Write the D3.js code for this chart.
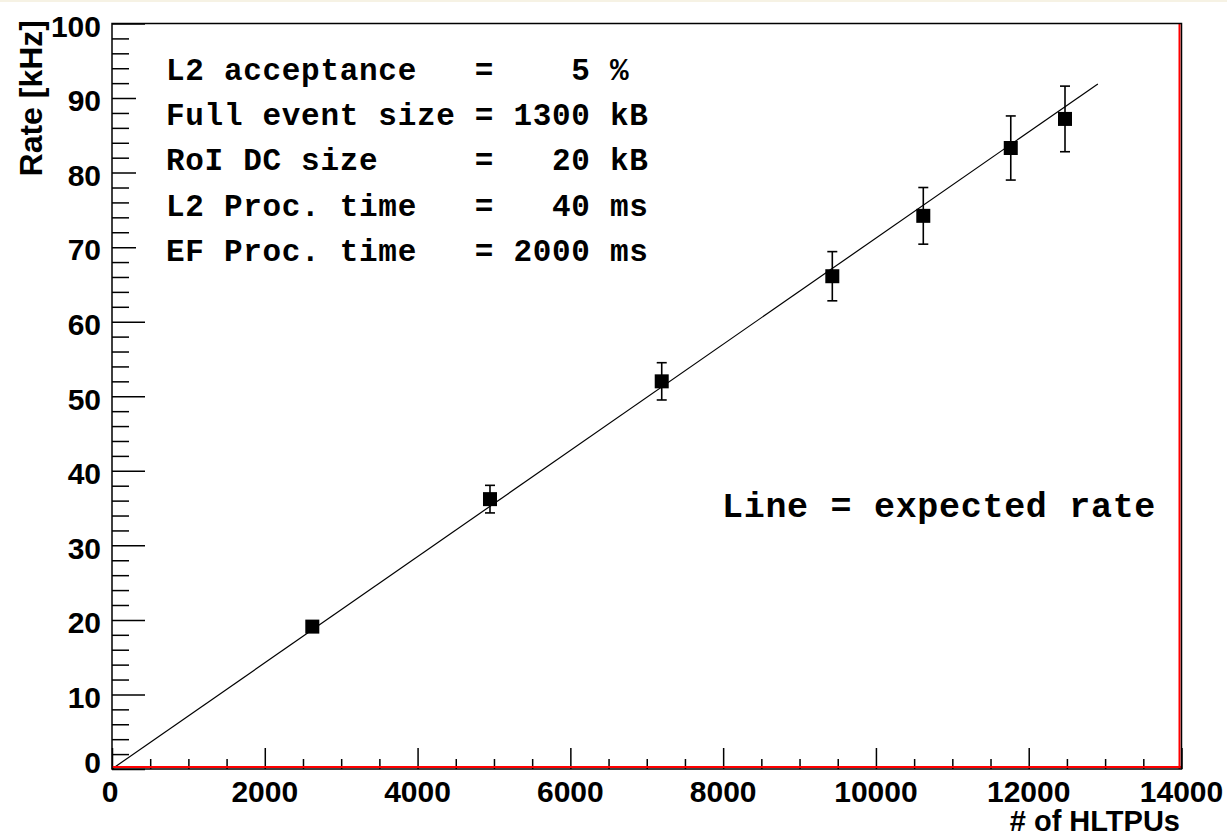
<!DOCTYPE html>
<html>
<head>
<meta charset="utf-8">
<script src="https://cdn.jsdelivr.net/npm/d3@7"></script>
<style>
  html, body { margin: 0; padding: 0; background: #ffffff; }
  svg { display: block; }
</style>
</head>
<body>
<svg id="chart" width="1227" height="838"></svg>
<script>
// ---- data ----
const hltpus     = [2622, 4948, 7196, 9429, 10620, 11765, 12475];
const rates      = [19.1, 36.2, 52.0, 66.1, 74.2, 83.3, 87.2];
const rateErrors = [0.7, 1.85, 2.5, 3.3, 3.8, 4.3, 4.4];
const expectedX  = [0, 12905];
const expectedY  = [0, 91.9];
const xMajorTicks = [0, 2000, 4000, 6000, 8000, 10000, 12000, 14000];
const yMajorTicks = [0, 10, 20, 30, 40, 50, 60, 70, 80, 90, 100];
const infoLines = [
  "L2 acceptance   =    5 %",
  "Full event size = 1300 kB",
  "RoI DC size     =   20 kB",
  "L2 Proc. time   =   40 ms",
  "EF Proc. time   = 2000 ms"
];
const noteText = "Line = expected rate";
const xTitle = "# of HLTPUs";
const yTitle = "Rate [kHz]";

(function () {
// ---- layout ----
const svg = d3.select("#chart");
const W = 1227, H = 838;
const pLeft = 112, pRight = 1181.5, pTop = 23.5, pBottom = 769;

svg.append("rect").attr("x", 0).attr("y", 0).attr("width", W).attr("height", H).attr("fill", "#ffffff");
svg.append("rect").attr("x", 0).attr("y", 0).attr("width", W).attr("height", 2).attr("fill", "#f6f2e4");

const x = d3.scaleLinear().domain([0, 14000]).range([pLeft, pRight]);
const y = d3.scaleLinear().domain([0, 100]).range([pBottom, pTop]);

const sans = "'Liberation Sans', Arial, Helvetica, sans-serif";
const mono = "'Liberation Mono', 'Courier New', monospace";

// ---- axes ----
const gx = svg.append("g").attr("transform", `translate(0,${pBottom})`);
gx.call(d3.axisBottom(x).tickValues(d3.range(0, 14001, 500)).tickSize(0).tickFormat(""));
gx.select(".domain").remove();
gx.selectAll(".tick line").remove();
gx.selectAll(".tick").append("line")
  .attr("y1", 0)
  .attr("y2", d => (d % 2000 === 0 ? -21 : -10))
  .attr("stroke", "#000").attr("stroke-width", 1.5);

const gy = svg.append("g").attr("transform", `translate(${pLeft},0)`);
gy.call(d3.axisLeft(y).tickValues(d3.range(0, 101, 2)).tickSize(0).tickFormat(""));
gy.select(".domain").remove();
gy.selectAll(".tick line").remove();
gy.selectAll(".tick").append("line")
  .attr("x1", 0)
  .attr("x2", d => (d % 10 === 0 ? 33 : 17))
  .attr("stroke", "#000").attr("stroke-width", 1.5);

// tick labels
svg.append("g").selectAll("text").data(xMajorTicks).join("text")
  .attr("x", d => x(d) - (d === 0 ? 2 : 0))
  .attr("y", 802)
  .attr("text-anchor", "middle")
  .attr("font-family", sans).attr("font-weight", "bold").attr("font-size", 30)
  .attr("fill", "#000")
  .text(d => d);

svg.append("g").selectAll("text").data(yMajorTicks).join("text")
  .attr("x", 101)
  .attr("y", d => y(d) + (d === 0 ? -7 : 2.5))
  .attr("dy", "0.36em")
  .attr("text-anchor", "end")
  .attr("font-family", sans).attr("font-weight", "bold").attr("font-size", 30)
  .attr("fill", "#000")
  .text(d => d);

// axis titles
svg.append("text")
  .attr("x", 1180).attr("y", 831)
  .attr("text-anchor", "end")
  .attr("font-family", sans).attr("font-weight", "bold").attr("font-size", 29)
  .attr("fill", "#000")
  .text(xTitle);

svg.append("text")
  .attr("transform", "translate(42,20) rotate(-90)")
  .attr("text-anchor", "end")
  .attr("font-family", sans).attr("font-weight", "bold").attr("font-size", 32)
  .attr("fill", "#000")
  .text(yTitle);

// ---- expected-rate line ----
const lineData = expectedX.map((d, i) => [d, expectedY[i]]);
svg.append("path")
  .datum(lineData)
  .attr("d", d3.line().x(d => x(d[0])).y(d => y(d[1])))
  .attr("fill", "none").attr("stroke", "#000").attr("stroke-width", 1.2);

// ---- data points with error bars ----
const pts = hltpus.map((d, i) => ({ x: d, y: rates[i], e: rateErrors[i] }));
const gp = svg.append("g");
gp.selectAll("line.err").data(pts).join("line").attr("class", "err")
  .attr("x1", d => x(d.x)).attr("x2", d => x(d.x))
  .attr("y1", d => y(d.y + d.e)).attr("y2", d => y(d.y - d.e))
  .attr("stroke", "#000").attr("stroke-width", 1.6);
gp.selectAll("line.capt").data(pts).join("line").attr("class", "capt")
  .attr("x1", d => x(d.x) - 5).attr("x2", d => x(d.x) + 5)
  .attr("y1", d => y(d.y + d.e)).attr("y2", d => y(d.y + d.e))
  .attr("stroke", "#000").attr("stroke-width", 1.6);
gp.selectAll("line.capb").data(pts).join("line").attr("class", "capb")
  .attr("x1", d => x(d.x) - 5).attr("x2", d => x(d.x) + 5)
  .attr("y1", d => y(d.y - d.e)).attr("y2", d => y(d.y - d.e))
  .attr("stroke", "#000").attr("stroke-width", 1.6);
gp.selectAll("rect").data(pts).join("rect")
  .attr("x", d => x(d.x) - 7).attr("y", d => y(d.y) - 7)
  .attr("width", 14).attr("height", 14)
  .attr("fill", "#000");

// ---- text pave ----
svg.append("rect")
  .attr("x", 136).attr("y", 26).attr("width", 560).attr("height", 262)
  .attr("fill", "#ffffff");
svg.append("g").selectAll("text").data(infoLines).join("text")
  .attr("x", 166)
  .attr("y", (d, i) => 80 + i * 45.2)
  .style("white-space", "pre")
  .attr("font-family", mono).attr("font-weight", "bold").attr("font-size", 31)
  .attr("letter-spacing", 0.7)
  .attr("fill", "#000")
  .text(d => d);

svg.append("text")
  .attr("x", 722).attr("y", 517)
  .style("white-space", "pre")
  .attr("font-family", mono).attr("font-weight", "bold").attr("font-size", 35)
  .attr("letter-spacing", 0.7)
  .attr("fill", "#000")
  .text(noteText);

// ---- frame ----
svg.append("line").attr("x1", pLeft).attr("x2", pRight).attr("y1", pBottom - 2).attr("y2", pBottom - 2)
  .attr("stroke", "#ff0000").attr("stroke-width", 2);
svg.append("line").attr("x1", pRight - 2).attr("x2", pRight - 2).attr("y1", pTop).attr("y2", pBottom)
  .attr("stroke", "#ff0000").attr("stroke-width", 2);
svg.append("rect")
  .attr("x", pLeft).attr("y", pTop).attr("width", pRight - pLeft).attr("height", pBottom - pTop)
  .attr("fill", "none").attr("stroke", "#000").attr("stroke-width", 1.5);
})();
</script>
</body>
</html>
